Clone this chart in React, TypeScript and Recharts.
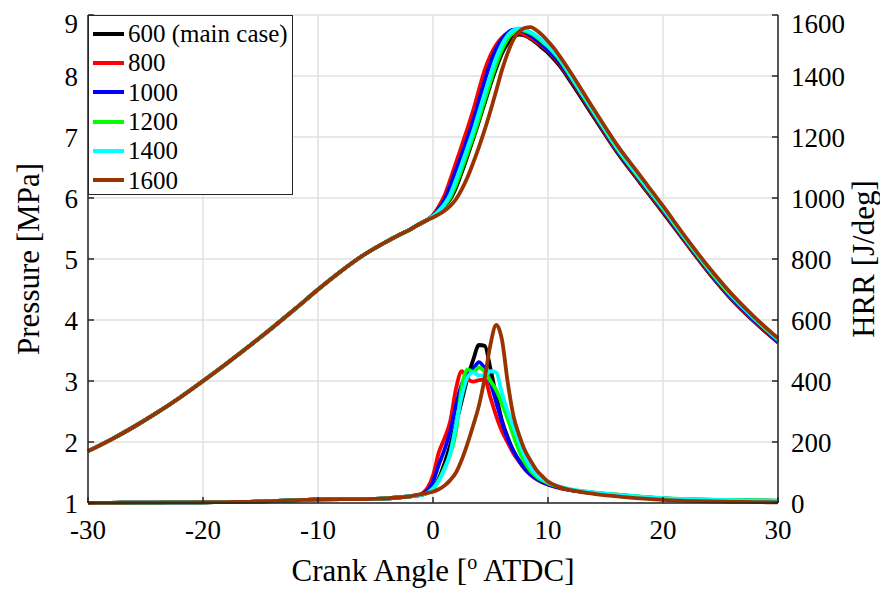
import { CartesianGrid, Label, Legend, Line, LineChart, XAxis, YAxis } from 'recharts'

// crank angle samples [deg ATDC]
const angles = [
  -30, -28, -26, -24, -22, -20, -18, -16, -14, -12, -10, -8, -6, -4, -3, -2,
  -1.5, -1, -0.5, 0, 0.5, 1, 1.5, 2, 2.5, 3, 3.5, 4, 4.5, 5, 5.5, 6, 6.5, 7, 7.5, 8, 8.5, 9, 9.5, 10, 10.5, 11,
  12, 14, 16, 18, 20, 22, 24, 26, 28, 30,
]

// compression part, identical for all cases (-30 .. -2)
const pressureCompression = [1.85, 2.04, 2.25, 2.48, 2.73, 3.0, 3.28, 3.57, 3.87, 4.18, 4.5, 4.8, 5.07, 5.29, 5.39, 5.48]
const hrrCompression = [0, 0.5, 1, 1.5, 2, 2.5, 3, 4, 6, 9, 12, 13, 13, 15, 18, 22]

// pressure [MPa] from -1.5 deg on
const pressure600 = [
  5.54, 5.59, 5.64, 5.7, 5.77, 5.87, 5.98, 6.17, 6.42, 6.69, 6.97, 7.26, 7.56, 7.86, 8.13, 8.37, 8.54, 8.64, 8.68, 8.66, 8.61, 8.54, 8.46, 8.38, 8.28, 8.17,
  7.9, 7.32, 6.75, 6.25, 5.76, 5.26, 4.77, 4.33, 3.96, 3.63,
]
const pressure800 = [
  5.54, 5.59, 5.64, 5.72, 5.86, 6.04, 6.3, 6.58, 6.86, 7.14, 7.44, 7.78, 8.1, 8.34, 8.51, 8.63, 8.7, 8.72, 8.71, 8.67, 8.62, 8.56, 8.49, 8.41, 8.31, 8.2,
  7.93, 7.35, 6.77, 6.27, 5.78, 5.27, 4.78, 4.34, 3.97, 3.64,
]
const pressure1000 = [
  5.54, 5.59, 5.64, 5.71, 5.82, 5.97, 6.2, 6.46, 6.71, 6.98, 7.27, 7.6, 7.92, 8.22, 8.45, 8.61, 8.71, 8.76, 8.76, 8.72, 8.66, 8.59, 8.51, 8.43, 8.33, 8.22,
  7.95, 7.37, 6.79, 6.29, 5.8, 5.29, 4.8, 4.36, 3.99, 3.65,
]
const pressure1200 = [
  5.54, 5.59, 5.64, 5.7, 5.78, 5.88, 6.01, 6.22, 6.47, 6.74, 7.01, 7.3, 7.61, 7.91, 8.19, 8.43, 8.61, 8.72, 8.76, 8.74, 8.7, 8.64, 8.56, 8.48, 8.38, 8.27,
  7.98, 7.39, 6.81, 6.31, 5.82, 5.31, 4.82, 4.38, 4.01, 3.67,
]
const pressure1400 = [
  5.54, 5.59, 5.64, 5.7, 5.79, 5.9, 6.06, 6.3, 6.56, 6.83, 7.1, 7.41, 7.72, 8.02, 8.3, 8.52, 8.67, 8.75, 8.78, 8.76, 8.72, 8.66, 8.58, 8.5, 8.4, 8.29,
  8.0, 7.41, 6.83, 6.33, 5.84, 5.33, 4.84, 4.4, 4.02, 3.68,
]
const pressure1600 = [
  5.54, 5.59, 5.64, 5.68, 5.73, 5.79, 5.87, 5.98, 6.14, 6.34, 6.58, 6.84, 7.12, 7.43, 7.76, 8.1, 8.38, 8.6, 8.73, 8.79, 8.8, 8.75, 8.67, 8.57, 8.46, 8.33,
  8.05, 7.45, 6.87, 6.37, 5.87, 5.35, 4.86, 4.42, 4.04, 3.7,
]

// heat release rate [J/deg] from -1.5 deg on
const hrr600 = [
  24, 27, 33, 48, 80, 130, 190, 260, 335, 410, 470, 518, 515, 440, 350, 270, 215, 170, 138, 112, 94, 80, 70, 62, 55, 50,
  42, 32, 25, 19, 14, 11, 9, 8, 7, 6,
]
const hrr800 = [
  24, 30, 48, 90, 165, 212, 268, 375, 432, 408, 398, 403, 405, 345, 285, 235, 198, 162, 135, 110, 92, 78, 68, 60, 54, 49,
  42, 34, 27, 20, 15, 12, 10, 9, 8, 7,
]
const hrr1000 = [
  24, 28, 40, 70, 125, 175, 235, 320, 390, 420, 440, 462, 440, 395, 330, 265, 210, 170, 138, 112, 93, 79, 69, 61, 55, 50,
  42, 33, 26, 20, 15, 12, 10, 9, 8, 7,
]
const hrr1200 = [
  24, 27, 32, 45, 75, 115, 160, 235, 380, 438, 430, 445, 430, 400, 370, 325, 275, 220, 170, 132, 105, 86, 74, 65, 58, 52,
  44, 34, 27, 21, 16, 13, 11, 10, 9, 8,
]
const hrr1400 = [
  24, 27, 33, 48, 72, 110, 165, 255, 350, 412, 428, 418, 420, 432, 428, 360, 300, 250, 198, 150, 115, 92, 78, 68, 60, 54,
  45, 35, 27, 21, 16, 13, 11, 9, 8, 7,
]
const hrr1600 = [
  26, 29, 33, 37, 45, 57, 75, 100, 142, 195, 255, 320, 410, 520, 584, 535, 395, 285, 222, 172, 138, 108, 88, 70, 60, 52,
  42, 30, 22, 15, 10, 7, 5, 4, 3, 2,
]

const series = [
  { key: '600', name: '600 (main case)', color: '#000000', pressure: pressure600, hrr: hrr600 },
  { key: '800', name: '800', color: '#ff0000', pressure: pressure800, hrr: hrr800 },
  { key: '1000', name: '1000', color: '#0000ff', pressure: pressure1000, hrr: hrr1000 },
  { key: '1200', name: '1200', color: '#00ff00', pressure: pressure1200, hrr: hrr1200 },
  { key: '1400', name: '1400', color: '#00ffff', pressure: pressure1400, hrr: hrr1400 },
  { key: '1600', name: '1600', color: '#993300', pressure: pressure1600, hrr: hrr1600 },
]

const angleTicks = [-30, -20, -10, 0, 10, 20, 30]
const pressureTicks = [1, 2, 3, 4, 5, 6, 7, 8, 9]
const hrrTicks = [0, 200, 400, 600, 800, 1000, 1200, 1400, 1600]

const data = angles.map((angle, i) => {
  const row: Record<string, number> = { angle }
  const n = pressureCompression.length
  series.forEach((s) => {
    row['p' + s.key] = i < n ? pressureCompression[i] : s.pressure[i - n]
    row['h' + s.key] = i < n ? hrrCompression[i] : s.hrr[i - n]
  })
  return row
})

const FONT = 'Liberation Serif, DejaVu Serif, serif'
const AXIS = '#262626'
const tickStyle = { fontSize: 27, fill: '#000', fontFamily: FONT }

function LegendBox() {
  return (
    <div
      style={{
        border: '1.5px solid #262626',
        background: '#fff',
        width: 205,
        height: 180,
        boxSizing: 'border-box',
        paddingTop: 3,
        fontFamily: FONT,
      }}
    >
      {series.map((s) => (
        <div key={s.key} style={{ display: 'flex', alignItems: 'center', height: 29.3 }}>
          <span style={{ display: 'inline-block', width: 31, height: 4, background: s.color, marginLeft: 4, marginRight: 4 }} />
          <span style={{ fontSize: 25, lineHeight: '29px', color: '#000', whiteSpace: 'nowrap' }}>{s.name}</span>
        </div>
      ))}
    </div>
  )
}

const xLabel = (props: any) => {
  const { x, y, width } = props.viewBox
  return (
    <text x={x + width / 2} y={y + 78} textAnchor='middle' fontSize={31} fontFamily={FONT} fill='#000'>
      Crank Angle [<tspan dy={-12} fontSize={20}>o</tspan>
      <tspan dy={12}> ATDC]</tspan>
    </text>
  )
}

const leftLabel = (props: any) => {
  const { x, y, height } = props.viewBox
  const cx = x + 20
  const cy = y + height / 2
  return (
    <text x={cx} y={cy} transform={`rotate(-90 ${cx} ${cy})`} textAnchor='middle' dominantBaseline='central' fontSize={31} fontFamily={FONT} fill='#000'>
      Pressure [MPa]
    </text>
  )
}

const rightLabel = (props: any) => {
  const { x, y, height } = props.viewBox
  const cx = x + 85
  const cy = y + height / 2
  return (
    <text x={cx} y={cy} transform={`rotate(-90 ${cx} ${cy})`} textAnchor='middle' dominantBaseline='central' fontSize={31} fontFamily={FONT} fill='#000'>
      HRR [J/deg]
    </text>
  )
}

export default function App() {
  return (
    <div style={{ fontFamily: FONT }}>
      <LineChart width={880} height={584} data={data} margin={{ top: 7, right: 10, bottom: 9, left: 0 }} style={{ overflow: 'visible' }}>
        <CartesianGrid yAxisId='p' stroke='#e0e0e0' strokeWidth={1.5} />
        <XAxis
          dataKey='angle'
          type='number'
          domain={[-30, 30]}
          ticks={angleTicks}
          height={80}
          stroke={AXIS}
          strokeWidth={1.5}
          tickSize={-6}
          tickMargin={23}
          tick={tickStyle}
        >
          <Label content={xLabel} />
        </XAxis>
        <XAxis
          xAxisId='top'
          orientation='top'
          dataKey='angle'
          type='number'
          domain={[-30, 30]}
          ticks={angleTicks}
          height={0}
          stroke={AXIS}
          strokeWidth={1.5}
          tickSize={-6}
          tick={false}
        />
        <YAxis
          yAxisId='p'
          domain={[1, 9]}
          ticks={pressureTicks}
          width={80}
          stroke={AXIS}
          strokeWidth={1.5}
          tickSize={-6}
          tickMargin={16}
          tick={tickStyle}
        >
          <Label content={leftLabel} />
        </YAxis>
        <YAxis
          yAxisId='h'
          orientation='right'
          domain={[0, 1600]}
          ticks={hrrTicks}
          width={100}
          stroke={AXIS}
          strokeWidth={1.5}
          tickSize={-6}
          tickMargin={19}
          tick={tickStyle}
        >
          <Label content={rightLabel} />
        </YAxis>
        <Legend
          layout='vertical'
          align='center'
          verticalAlign='middle'
          content={<LegendBox />}
          wrapperStyle={{ left: 80, top: 7, width: 205, height: 180 }}
        />
        {series.map((s) => (
          <Line
            key={'p' + s.key}
            yAxisId='p'
            type='monotone'
            dataKey={'p' + s.key}
            name={s.name}
            stroke={s.color}
            strokeWidth={3.8}
            dot={false}
            activeDot={false}
            isAnimationActive={false}
          />
        ))}
        {series.map((s) => (
          <Line
            key={'h' + s.key}
            yAxisId='h'
            type='monotone'
            dataKey={'h' + s.key}
            name={s.name}
            stroke={s.color}
            strokeWidth={3.8}
            dot={false}
            activeDot={false}
            legendType='none'
            isAnimationActive={false}
          />
        ))}
      </LineChart>
    </div>
  )
}
